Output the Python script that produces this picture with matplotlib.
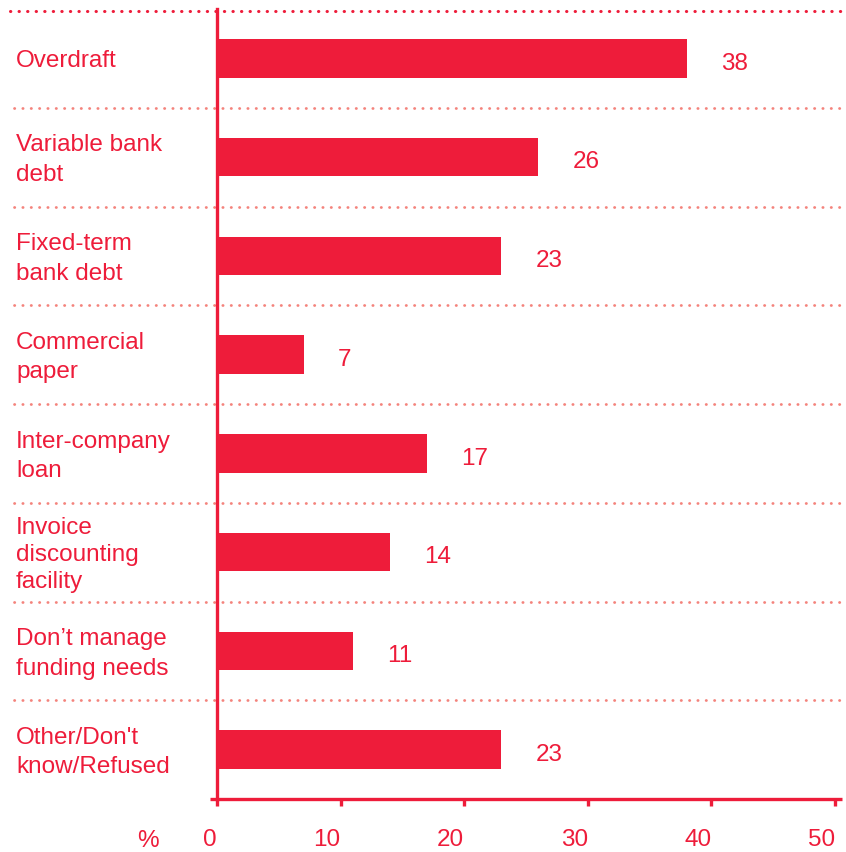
import matplotlib
matplotlib.use("Agg")
import matplotlib.pyplot as plt
from matplotlib import font_manager

categories = [
    "Overdraft",
    "Variable bank\ndebt",
    "Fixed-term\nbank debt",
    "Commercial\npaper",
    "Inter-company\nloan",
    "Invoice\ndiscounting\nfacility",
    "Don\u2019t manage\nfunding needs",
    "Other/Don't\nknow/Refused",
]
values = [38, 26, 23, 7, 17, 14, 11, 23]
xticks = [0, 10, 20, 30, 40, 50]

RED = "#EE1C3A"
SALMON = "#F4837C"

names = {f.name for f in font_manager.fontManager.ttflist}
narrow = "Liberation Sans Narrow" if "Liberation Sans Narrow" in names else "Liberation Sans"
plt.rcParams["font.family"] = ["Liberation Sans", "DejaVu Sans"]

W, H = 846, 853
fig = plt.figure(figsize=(W / 100, H / 100), dpi=100)
x0, x1, ytop, ybot = 217, 835, 10, 800
ax = fig.add_axes([x0 / W, 1 - ybot / H, (x1 - x0) / W, (ybot - ytop) / H])

n = len(categories)
ypos = list(range(n))
ax.barh(ypos, values, height=0.39, color=RED, zorder=3)
ax.set_xlim(0, 50)
ax.set_ylim(n - 0.5, -0.5)

for s in ["top", "right", "bottom"]:
    ax.spines[s].set_visible(False)
ax.spines["left"].set_color(RED)
ax.spines["left"].set_linewidth(2.4)
ax.spines["left"].set_zorder(4)

ax.set_yticks([])
ax.set_xticks(xticks)
ax.set_xticklabels([str(t) for t in xticks])
ax.tick_params(axis="x", direction="out", length=5, width=2.4, color=RED,
               labelcolor=RED, labelsize=17.5, pad=16)
for lbl in ax.get_xticklabels():
    lbl.set_family([narrow, "DejaVu Sans"])
    lbl.set_horizontalalignment("right")

# bottom axis line, a little wider than the data range
ax.plot([-0.6, 50.6], [n - 0.5, n - 0.5], color=RED, lw=2.4, clip_on=False,
        solid_capstyle="butt", zorder=5)

# dotted row separators
tr = ax.get_yaxis_transform()
xl = (14 - x0) / (x1 - x0)
xr = (846 - x0) / (x1 - x0)
ax.plot([(10 - x0) / (x1 - x0), xr], [-0.48, -0.48], transform=tr, color=RED,
        lw=2.2, linestyle=(0, (0.1, 2.7)), dash_capstyle="round", clip_on=False)
for i in range(n - 1):
    ax.plot([xl, xr], [i + 0.5, i + 0.5], transform=tr, color=SALMON,
            lw=2.0, linestyle=(0, (0.1, 2.9)), dash_capstyle="round",
            clip_on=False, zorder=1)

# category labels
for i, c in enumerate(categories):
    ls = 1.45 if c.count("\n") == 1 else 1.28
    ax.text((16 - x0) / (x1 - x0), i + 0.02, c, transform=tr, ha="left",
            va="center", color=RED, fontsize=17.5, linespacing=ls)

# value labels
for i, v in enumerate(values):
    ax.annotate(str(v), (v, i), xytext=(24.5, -3), textcoords="offset points",
                ha="left", va="center", color=RED, fontsize=17.5,
                family=[narrow, "DejaVu Sans"])

fig.text(148 / W, 1 - 841 / H, "%", ha="center", va="center", color=RED,
         fontsize=17.5, family=[narrow, "DejaVu Sans"])

fig.savefig("out.png", dpi=100, facecolor="white")
